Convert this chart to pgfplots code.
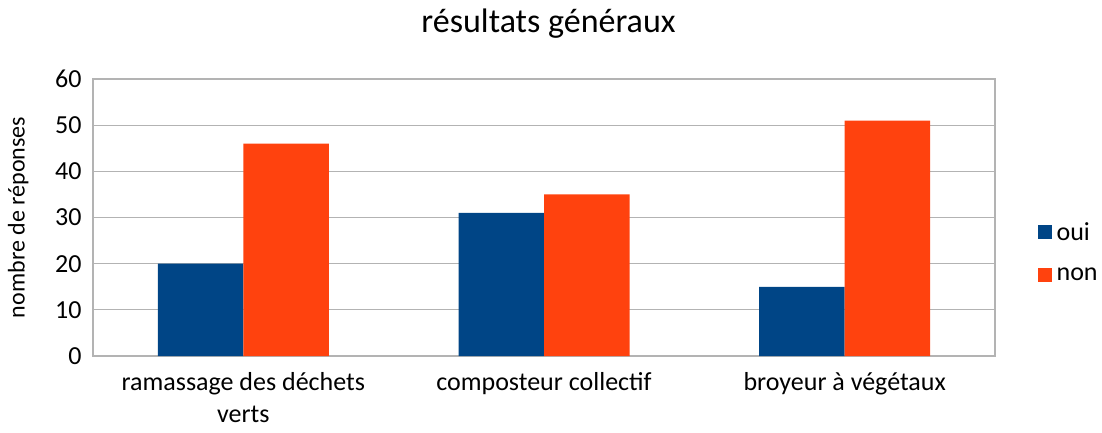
\documentclass[border=0pt]{standalone}
\usepackage{pgfplots}
\pgfplotsset{compat=1.18}
\usepackage{fontspec}
\setmainfont{Carlito}
\definecolor{oui}{HTML}{004586}
\definecolor{non}{HTML}{FF420E}
\definecolor{gridc}{HTML}{B3B3B3}
\begin{document}
\begin{tikzpicture}
\useasboundingbox (0,0) rectangle (1102pt,432pt);
\begin{axis}[
  at={(93pt,76pt)}, anchor=south west,
  scale only axis, width=902pt, height=277pt,
  ybar=0pt, bar width=85.5pt,
  xmin=-0.5, xmax=2.5, ymin=0, ymax=60,
  ytick={0,10,...,60},
  xtick=data,
  xticklabels={{ramassage des déchets\\verts}, composteur collectif, broyeur à végétaux},
  xticklabel style={align=center, font=\fontsize{26}{32}\selectfont, yshift=-15pt, inner ysep=1pt},
  yticklabel style={font=\fontsize{26}{30}\selectfont, xshift=-8pt},
  /pgf/number format/assume math mode=true,
  major tick length=0pt,
  ymajorgrids, grid style={gridc, line width=1.3pt},
  axis line style={gridc, line width=1.3pt},
  title={résultats généraux},
  title style={font=\fontsize{34}{40}\selectfont, at={(rel axis cs:0.505,1)}, anchor=base, yshift=41pt},
  ylabel={nombre de réponses},
  ylabel style={font=\fontsize{24}{28}\selectfont, at={(axis description cs:-0.083,0.5)}, anchor=center},
  legend style={draw=none, fill=none, at={(axis description cs:1.047,0.375)}, anchor=west, font=\fontsize{26}{30}\selectfont, row sep=22pt, column sep=3pt, inner sep=0pt},
  legend image code/.code={\fill[#1] (0pt,-7pt) rectangle (14pt,7pt);},
  legend cell align=left,
]
\addplot[fill=oui, draw=none] coordinates {(0,20) (1,31) (2,15)};
\addplot[fill=non, draw=none] coordinates {(0,46) (1,35) (2,51)};
\legend{oui, non}
\end{axis}
\end{tikzpicture}
\end{document}
